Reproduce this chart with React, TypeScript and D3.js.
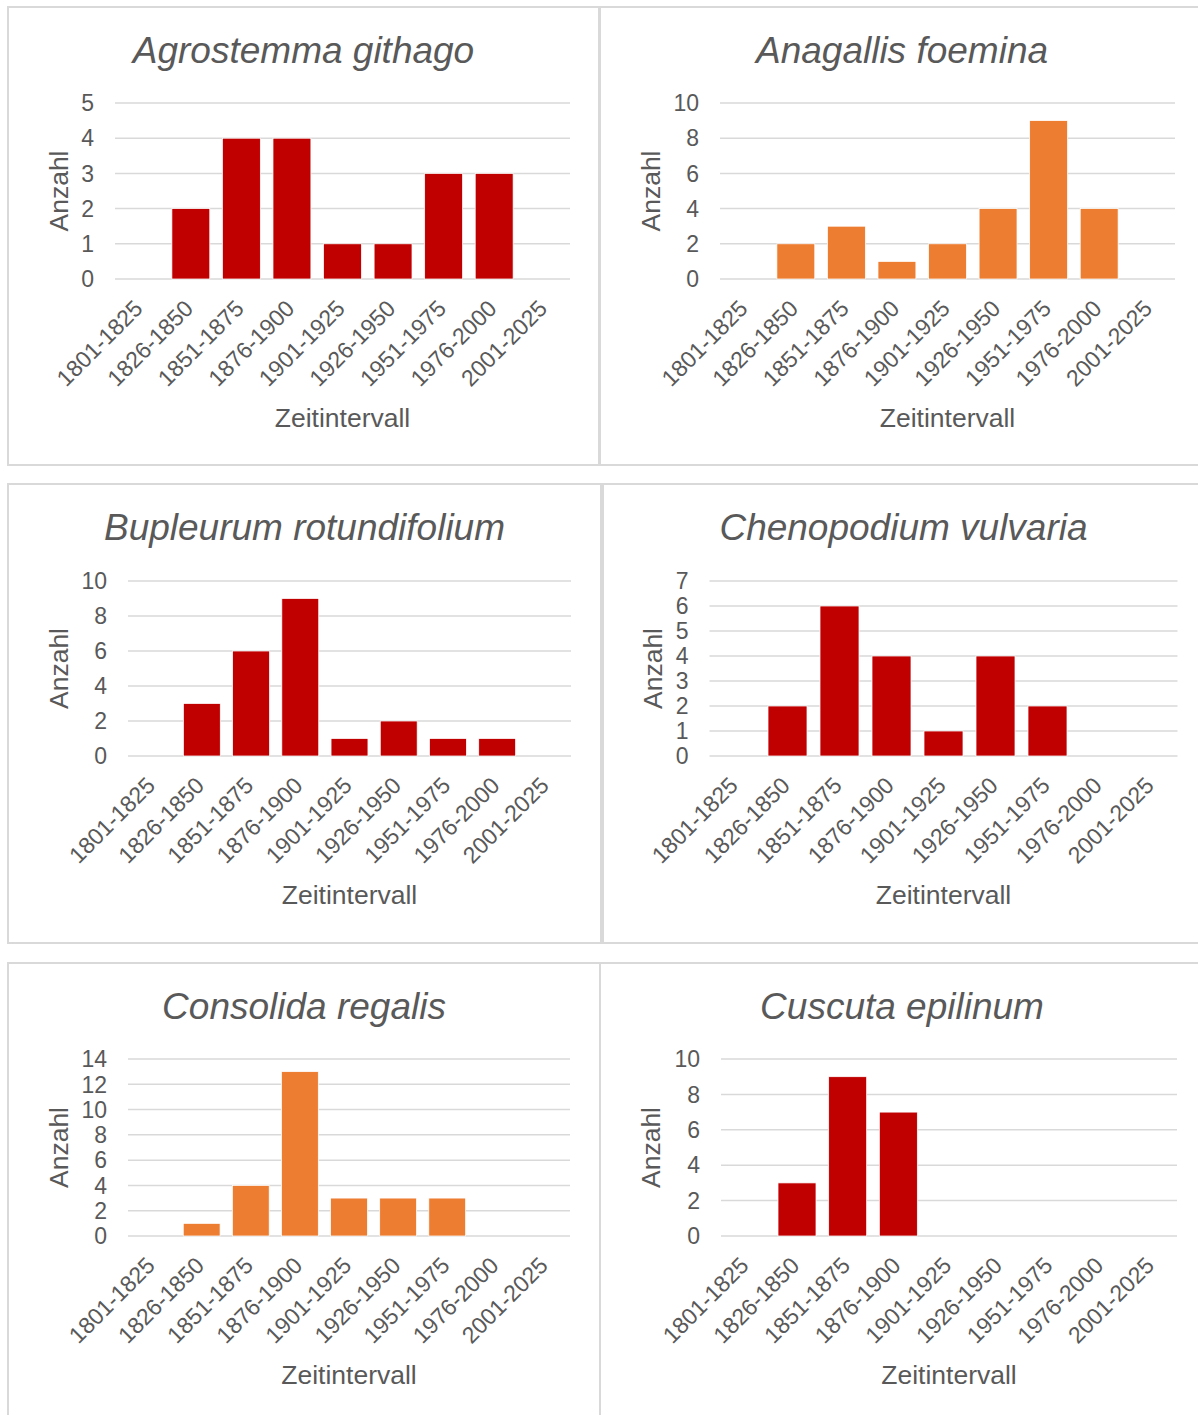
import React from "react";
import * as d3 from "d3";

const categories = [
  "1801-1825", "1826-1850", "1851-1875", "1876-1900", "1901-1925",
  "1926-1950", "1951-1975", "1976-2000", "2001-2025",
];

const agrostemma = [0, 2, 4, 4, 1, 1, 3, 3, 0];
const anagallis = [0, 2, 3, 1, 2, 4, 9, 4, 0];
const bupleurum = [0, 3, 6, 9, 1, 2, 1, 1, 0];
const chenopodium = [0, 2, 6, 4, 1, 4, 2, 0, 0];
const consolida = [0, 1, 4, 13, 3, 3, 3, 0, 0];
const cuscuta = [0, 3, 9, 7, 0, 0, 0, 0, 0];

const titles = [
  "Agrostemma githago", "Anagallis foemina", "Bupleurum rotundifolium",
  "Chenopodium vulvaria", "Consolida regalis", "Cuscuta epilinum",
];
const yMaxes = [5, 10, 10, 7, 14, 10];
const ySteps = [1, 2, 2, 1, 2, 2];

const RED = "#C00000";
const ORANGE = "#ED7D31";
const TEXT = "#595959";
const GRID = "#D9D9D9";
const FONT = "'Liberation Sans', Arial, sans-serif";

type Box = { x: number; y: number; w: number; h: number };
type Plot = { x0: number; x1: number; top: number; bottom: number; labelX: number };

const layouts: { box: Box; plot: Plot }[] = [
  { box: { x: 8, y: 7, w: 591, h: 458 }, plot: { x0: 115, x1: 570, top: 103, bottom: 279, labelX: 58 } },
  { box: { x: 600, y: 7, w: 604, h: 458 }, plot: { x0: 720, x1: 1175, top: 103, bottom: 279, labelX: 650 } },
  { box: { x: 8, y: 484, w: 593, h: 459 }, plot: { x0: 128, x1: 571, top: 581, bottom: 756, labelX: 58 } },
  { box: { x: 603, y: 484, w: 601, h: 459 }, plot: { x0: 709.5, x1: 1177.5, top: 581, bottom: 756, labelX: 652 } },
  { box: { x: 8, y: 963, w: 592, h: 460 }, plot: { x0: 128, x1: 570, top: 1059, bottom: 1236, labelX: 58 } },
  { box: { x: 600, y: 963, w: 604, h: 460 }, plot: { x0: 721, x1: 1177, top: 1059, bottom: 1236, labelX: 650 } },
];

const seriesList = [agrostemma, anagallis, bupleurum, chenopodium, consolida, cuscuta];
const colors = [RED, ORANGE, RED, RED, ORANGE, RED];

function Panel({ idx }: { idx: number }) {
  const { box, plot } = layouts[idx];
  const values = seriesList[idx];
  const yMax = yMaxes[idx];
  const step = ySteps[idx];
  const x = d3.scaleBand<string>().domain(categories).range([plot.x0, plot.x1]).paddingInner(0.25).paddingOuter(0.125);
  const xc = d3.scaleBand<string>().domain(categories).range([plot.x0, plot.x1]);
  const y = d3.scaleLinear().domain([0, yMax]).range([plot.bottom, plot.top]);
  const ticks = d3.range(0, yMax + step / 2, step);
  const midX = (plot.x0 + plot.x1) / 2;
  const midY = (plot.top + plot.bottom) / 2;
  return (
    <g>
      <rect x={box.x} y={box.y} width={box.w} height={box.h} fill="#fff" stroke={GRID} strokeWidth={2} />
      <text x={box.x + box.w / 2} y={box.y + 56} textAnchor="middle" fontSize={37} fontStyle="italic" fill={TEXT} fontFamily={FONT}>
        {titles[idx]}
      </text>
      {ticks.map((t) => (
        <g key={t}>
          <line x1={plot.x0} x2={plot.x1} y1={y(t)} y2={y(t)} stroke={GRID} strokeWidth={1.5} />
          <text x={plot.x0 - 21} y={y(t)} dy="0.36em" textAnchor="end" fontSize={23} fill={TEXT} fontFamily={FONT}>
            {t}
          </text>
        </g>
      ))}
      {categories.map((c, i) =>
        values[i] > 0 ? (
          <rect key={c} x={x(c)} y={y(values[i])} width={x.bandwidth()} height={y(0) - y(values[i])} fill={colors[idx]} stroke="#fff" strokeWidth={0.75} />
        ) : null
      )}
      {categories.map((c) => {
        const cx = (xc(c) as number) + xc.bandwidth() / 2 - 2;
        const cy = plot.bottom + 25;
        return (
          <text key={c} x={cx} y={cy} dy="0.36em" textAnchor="end" fontSize={23} fill={TEXT} fontFamily={FONT} transform={`rotate(-45 ${cx} ${cy})`}>
            {c}
          </text>
        );
      })}
      <text x={midX} y={plot.bottom + 148} textAnchor="middle" fontSize={26.5} fill={TEXT} fontFamily={FONT}>
        Zeitintervall
      </text>
      <text x={0} y={0} dy="0.36em" textAnchor="middle" fontSize={26.5} fill={TEXT} fontFamily={FONT} transform={`translate(${plot.labelX}, ${midY}) rotate(-90)`}>
        Anzahl
      </text>
    </g>
  );
}

export default function App() {
  return (
    <svg width={1198} height={1415} style={{ position: "absolute", left: 0, top: 0, background: "#fff" }}>
      <rect x={0} y={0} width={1198} height={1415} fill="#fff" />
      {[0, 1, 2, 3, 4, 5].map((i) => (
        <Panel key={i} idx={i} />
      ))}
    </svg>
  );
}
